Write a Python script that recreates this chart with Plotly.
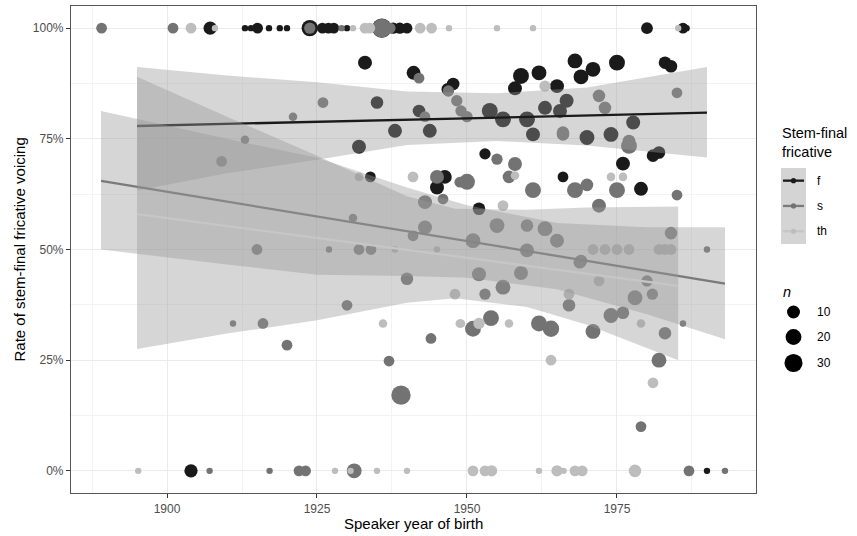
import numpy as np
import plotly.graph_objects as go

# ---------------- data ----------------
# f : stem-final /f/
f_year = [1907.2, 1913, 1914, 1915.1, 1917, 1918.8, 1920, 1923.8, 1925.9, 1926.9, 1927.8, 1930,
          1935.8, 1937.7, 1938.8, 1940, 1980, 1986, 1986.6,
          1904, 1990,
          1933, 1941.1, 1935, 1942, 1938, 1943.8, 1946.8, 1947.7, 1932, 1933.9, 1946.3, 1945,
          1968, 1971, 1969, 1975, 1983, 1984, 1962, 1959, 1958, 1965, 1953.8, 1956, 1960, 1961,
          1965.5, 1963, 1966.6, 1977.7, 1970, 1974, 1953, 1976, 1982, 1981, 1966, 1979, 1952]
f_rate = [1, 1, 1, 1, 1, 1, 1, 1, 1, 1, 1, 1,
          1, 1, 1, 1, 1, 1, 1,
          0, 0,
          0.922, 0.899, 0.832, 0.813, 0.768, 0.768, 0.862, 0.874, 0.732, 0.664, 0.664, 0.640,
          0.926, 0.907, 0.890, 0.922, 0.922, 0.914, 0.899, 0.892, 0.864, 0.869, 0.813, 0.794, 0.794, 0.760,
          0.813, 0.820, 0.836, 0.787, 0.753, 0.760, 0.716, 0.694, 0.719, 0.712, 0.664, 0.637, 0.592]
f_n = [11, 1, 1, 5, 1, 1, 1, 22, 5, 5, 5, 1,
       36, 6, 6, 5, 7, 5, 1,
       11, 1,
       13, 13, 9, 9, 13, 13, 9, 9, 13, 5, 13, 13,
       16, 16, 16, 20, 9, 9, 16, 20, 13, 13, 20, 20, 20, 13,
       13, 13, 13, 13, 16, 16, 6, 13, 9, 9, 5, 13, 9]

# s : stem-final /s/
s_year = [1889.1, 1901, 1923.8, 1929.1, 1935.8, 1937.2,
          1907.1, 1917.1, 1922, 1923.1, 1931.2, 1987, 1993,
          1942, 1926, 1921, 1943, 1913, 1948.3, 1909.1, 1945, 1946, 1943, 1943, 1941, 1931,
          1915, 1927, 1932, 1934, 1940, 1930, 1911, 1916, 1920, 1944, 1937, 1939,
          1968.8, 1952, 1959, 1956, 1953, 1967, 1980, 1978, 1980.9, 1974, 1976, 1983, 1986,
          1951, 1954, 1962, 1964, 1971, 1982, 1979,
          1966, 1977, 1955, 1958, 1957, 1950, 1961, 1968, 1970, 1975, 1985, 1972,
          1955, 1960, 1963, 1965, 1951, 1960, 1969, 1984, 1990,
          1985, 1946.9, 1949, 1950, 1972, 1973, 1966, 1977, 1948.8]
s_rate = [1, 1, 1, 1, 1, 1,
          0, 0, 0, 0, 0, 0, 0,
          0.887, 0.832, 0.800, 0.800, 0.748, 0.836, 0.699, 0.664, 0.614, 0.607, 0.550, 0.531, 0.571,
          0.500, 0.500, 0.500, 0.500, 0.434, 0.374, 0.333, 0.333, 0.284, 0.299, 0.248, 0.171,
          0.471, 0.444, 0.447, 0.415, 0.399, 0.374, 0.429, 0.391, 0.399, 0.351, 0.357, 0.311, 0.333,
          0.321, 0.345, 0.333, 0.321, 0.315, 0.250, 0.100,
          0.760, 0.734, 0.704, 0.693, 0.664, 0.653, 0.634, 0.634, 0.646, 0.634, 0.623, 0.599,
          0.554, 0.554, 0.547, 0.520, 0.520, 0.498, 0.474, 0.537, 0.500,
          0.854, 0.858, 0.813, 0.800, 0.847, 0.820, 0.764, 0.745, 0.652]
s_n = [5, 5, 6, 1, 33, 5,
       1, 1, 5, 5, 16, 5, 1,
       5, 5, 2, 5, 2, 6, 5, 13, 5, 13, 13, 5, 2,
       5, 1, 5, 5, 9, 5, 1, 5, 5, 5, 5, 36,
       9, 13, 13, 16, 6, 9, 6, 16, 6, 16, 9, 9, 1,
       20, 20, 20, 22, 16, 16, 5,
       9, 20, 6, 13, 9, 20, 20, 20, 9, 20, 5, 13,
       16, 9, 16, 13, 16, 13, 9, 9, 1,
       5, 6, 6, 6, 9, 9, 9, 9, 5]

# th : stem-final /th/
th_year = [1904, 1908, 1931, 1933, 1933.8, 1942.2, 1944.1, 1947, 1955, 1961, 1985.2,
           1895.2, 1928, 1930.6, 1935, 1940, 1951, 1953, 1954.1, 1962, 1965, 1966.1, 1968, 1969.2, 1978,
           1932, 1941, 1938, 1945, 1947.9, 1936, 1948.8, 1948, 1972, 1967, 1979, 1949, 1952, 1957,
           1964, 1981, 1958, 1974, 1976, 1956, 1971, 1973, 1975, 1977, 1982, 1983, 1984, 1963]
th_rate = [1, 1, 1, 1, 1, 1, 1, 1, 1, 1, 1,
           0, 0, 0, 0, 0, 0, 0, 0, 0, 0, 0, 0, 0, 0,
           0.664, 0.664, 0.500, 0.500, 0.400, 0.333, 0.333, 0.399, 0.429, 0.399, 0.333, 0.333, 0.333, 0.333,
           0.250, 0.199, 0.667, 0.664, 0.664, 0.599, 0.500, 0.500, 0.500, 0.500, 0.500, 0.500, 0.500, 0.869]
th_n = [5, 1, 1, 5, 5, 5, 5, 1, 1, 1, 1,
        1, 1, 1, 1, 1, 5, 5, 6, 1, 6, 1, 5, 5, 9,
        2, 5, 1, 1, 2, 2, 2, 5, 5, 5, 2, 2, 6, 2,
        5, 5, 2, 2, 2, 5, 5, 5, 5, 5, 5, 5, 5, 6]

# fitted lines (end points)
f_fit_year = [1895, 1990]
f_fit_rate = [0.779, 0.809]
s_fit_year = [1889, 1993]
s_fit_rate = [0.655, 0.423]
th_fit_year = [1895, 1985.2]
th_fit_rate = [0.580, 0.418]

# confidence bands
f_band_year = [1895, 1910, 1925, 1940, 1955, 1970, 1990]
f_band_lo = [0.633, 0.672, 0.703, 0.736, 0.745, 0.735, 0.708]
f_band_hi = [0.912, 0.893, 0.878, 0.857, 0.853, 0.866, 0.912]
s_band_year = [1889, 1910, 1925, 1940, 1950, 1965, 1980, 1993]
s_band_lo = [0.500, 0.466, 0.443, 0.440, 0.436, 0.410, 0.354, 0.297]
s_band_hi = [0.813, 0.750, 0.707, 0.640, 0.600, 0.560, 0.550, 0.550]
th_band_year = [1895, 1910, 1925, 1940, 1948, 1960, 1970, 1985.2]
th_band_lo = [0.275, 0.310, 0.340, 0.380, 0.390, 0.370, 0.330, 0.250]
th_band_hi = [0.890, 0.800, 0.712, 0.620, 0.592, 0.590, 0.595, 0.597]

x_ticks = [1900, 1925, 1950, 1975]
y_ticks = [0, 0.25, 0.5, 0.75, 1.0]
y_tick_labels = ["0%", "25%", "50%", "75%", "100%"]
legend_keys = ["f", "s", "th"]
size_breaks = [10, 20, 30]

# ---------------- styling ----------------
W, H = 857, 536
ML, MR, MT, MB = 71, 101, 6, 43
PW, PH = W - ML - MR, H - MT - MB

def px(x):
    return (x - ML) / PW

def py(y):
    return (H - MB - y) / PH

N_MIN, N_MAX = 1, 36

def diam(n):
    return (6.4 + 12.9 * np.sqrt((np.asarray(n, dtype=float) - N_MIN) / (N_MAX - N_MIN))).tolist()

PT_COL = {"f": "#1a1a1a", "s": "#737373", "th": "#bdbdbd"}
LN_COL = {"f": "#1a1a1a", "s": "#7a7a7a", "th": "#c6c6c6"}
BAND = "rgba(153,153,153,0.4)"
FONT = "Liberation Sans, Arial, Helvetica, sans-serif"

fig = go.Figure()

for key, yr, rt, nn in [("f", f_year, f_rate, f_n), ("s", s_year, s_rate, s_n), ("th", th_year, th_rate, th_n)]:
    fig.add_trace(go.Scatter(x=yr, y=rt, mode="markers",
                             marker=dict(size=diam(nn), color=PT_COL[key], line=dict(width=0), opacity=1),
                             showlegend=False, hoverinfo="skip"))

for key, by, lo, hi, ly, lv in [("f", f_band_year, f_band_lo, f_band_hi, f_fit_year, f_fit_rate),
                                 ("s", s_band_year, s_band_lo, s_band_hi, s_fit_year, s_fit_rate),
                                 ("th", th_band_year, th_band_lo, th_band_hi, th_fit_year, th_fit_rate)]:
    fig.add_trace(go.Scatter(x=list(by) + list(by)[::-1], y=list(hi) + list(lo)[::-1], fill="toself",
                             fillcolor=BAND, mode="lines", line=dict(width=0), showlegend=False,
                             hoverinfo="skip"))
    fig.add_trace(go.Scatter(x=ly, y=lv, mode="lines", line=dict(color=LN_COL[key], width=2.3),
                             showlegend=False, hoverinfo="skip"))

axis_common = dict(showgrid=True, gridcolor="#ebebeb", gridwidth=1.1, zeroline=False,
                   ticks="outside", ticklen=4, tickwidth=1, tickcolor="#333333",
                   showline=True, mirror=True, linecolor="#555555", linewidth=1.2,
                   tickfont=dict(family=FONT, size=12, color="#4d4d4d"))

fig.update_xaxes(range=[1884.0, 1998.17], tickvals=x_ticks, ticktext=[str(v) for v in x_ticks],
                 minor=dict(tickvals=[1887.5, 1912.5, 1937.5, 1962.5, 1987.5], showgrid=True,
                            gridcolor="#f3f3f3", gridwidth=0.7, ticks=""),
                 **axis_common)
fig.update_yaxes(range=[-0.05, 1.05], tickvals=y_ticks, ticktext=y_tick_labels,
                 minor=dict(tickvals=[0.125, 0.375, 0.625, 0.875], showgrid=True,
                            gridcolor="#f3f3f3", gridwidth=0.7, ticks=""),
                 **axis_common)

annotations = [
    dict(text="Speaker year of birth", x=px(413.5), y=py(523), xref="paper", yref="paper",
         showarrow=False, xanchor="center", yanchor="middle", font=dict(family=FONT, size=15, color="#000")),
    dict(text="Rate of stem-final fricative voicing", x=px(19), y=py(249.5), xref="paper", yref="paper",
         showarrow=False, textangle=-90, xanchor="center", yanchor="middle",
         font=dict(family=FONT, size=15, color="#000")),
    dict(text="Stem-final<br>fricative", x=px(780), y=py(142), xref="paper", yref="paper",
         showarrow=False, xanchor="left", yanchor="middle", align="left",
         font=dict(family=FONT, size=14.5, color="#000")),
    dict(text="<i>n</i>", x=px(781), y=py(292), xref="paper", yref="paper",
         showarrow=False, xanchor="left", yanchor="middle", font=dict(family=FONT, size=14.5, color="#000")),
]

shapes = []
# colour legend
key_top, key_h = 168, 25.3
shapes.append(dict(type="rect", xref="paper", yref="paper", x0=px(781), x1=px(806),
                   y0=py(key_top), y1=py(key_top + 3 * key_h), fillcolor="#d4d4d4", line=dict(width=0), layer="above"))
for i, k in enumerate(legend_keys):
    cy = key_top + key_h * (i + 0.5)
    shapes.append(dict(type="line", xref="paper", yref="paper", x0=px(783), x1=px(804), y0=py(cy), y1=py(cy),
                       line=dict(color=LN_COL[k], width=2.3), layer="above"))
    r = 2.6
    shapes.append(dict(type="circle", xref="paper", yref="paper", x0=px(793.5 - r), x1=px(793.5 + r),
                       y0=py(cy + r), y1=py(cy - r), fillcolor=PT_COL[k], line=dict(width=0), layer="above"))
    annotations.append(dict(text=k, x=px(815), y=py(cy), xref="paper", yref="paper", showarrow=False,
                            xanchor="left", yanchor="middle", font=dict(family=FONT, size=12, color="#000")))
# size legend
for cy, b in zip([312, 337, 363], size_breaks):
    r = diam([b])[0] / 2
    shapes.append(dict(type="circle", xref="paper", yref="paper", x0=px(793.5 - r), x1=px(793.5 + r),
                       y0=py(cy + r), y1=py(cy - r), fillcolor="#000000", line=dict(width=0), layer="above"))
    annotations.append(dict(text=str(b), x=px(815), y=py(cy), xref="paper", yref="paper", showarrow=False,
                            xanchor="left", yanchor="middle", font=dict(family=FONT, size=12, color="#000")))

fig.update_layout(width=W, height=H, margin=dict(l=ML, r=MR, t=MT, b=MB, pad=0),
                  paper_bgcolor="white", plot_bgcolor="white", showlegend=False,
                  annotations=annotations, shapes=shapes, font=dict(family=FONT))

fig.write_html("out.html", config={"displayModeBar": False},
               post_script="document.body.style.margin='0';document.body.style.overflow='hidden';")
